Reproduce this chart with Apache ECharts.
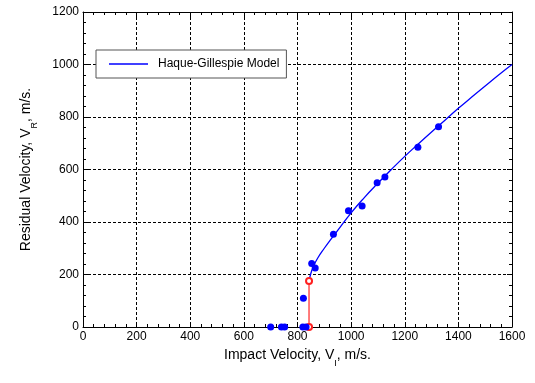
<!DOCTYPE html>
<html>
<head>
<meta charset="utf-8">
<script src="https://cdn.jsdelivr.net/npm/echarts@6/dist/echarts.min.js"></script>
<style>html,body{margin:0;padding:0;background:#fff}#c{width:535px;height:383px}</style>
</head>
<body>
<div id="c"></div>
<script>
// Measured data points (impact velocity, residual velocity)
const measuredVI = [700, 740, 752, 820, 832, 822, 853, 866, 934, 990, 1041, 1097, 1126, 1249, 1326];
const measuredVR = [0, 0, 0, 0, 0, 110, 242, 225, 353, 443, 461, 550, 571, 685, 763];
// Haque-Gillespie model curve
const modelVI = [843, 850, 860, 875, 900, 925, 950, 1000, 1050, 1100, 1150, 1200, 1250, 1300, 1350, 1400, 1450, 1500, 1550, 1600];
const modelVR = [175, 205, 232, 262, 300, 335, 368, 435, 494, 548, 600, 650, 697, 743, 788, 833, 876, 918, 960, 1000];
// Ballistic limit jump (red)
const limitVI = [843, 843];
const limitVR = [0, 175];
const xTicks = [0, 200, 400, 600, 800, 1000, 1200, 1400, 1600];
const yTicks = [0, 200, 400, 600, 800, 1000, 1200];

const zip = (a, b) => a.map((v, i) => [v, b[i]]);
const font = 'Liberation Sans, Arial, sans-serif';

const axisCommon = {
  type: 'value',
  axisLine: { show: true, onZero: false, lineStyle: { color: '#000', width: 1 } },
  axisTick: { show: true, inside: true, length: 5, lineStyle: { color: '#000' } },
  minorTick: { show: true, splitNumber: 5, length: 3, lineStyle: { color: '#000' } },
  splitLine: { show: false },
  minorSplitLine: { show: false }
};

const chart = echarts.init(document.getElementById('c'), null, { renderer: 'canvas' });
chart.setOption({
  animation: false,
  backgroundColor: '#fff',
  grid: { left: 83, right: 23, top: 12, bottom: 56 },
  legend: {
    left: 96, top: 50,
    orient: 'horizontal',
    data: [{ name: 'Haque-Gillespie Model', icon: 'rect' }],
    itemWidth: 39, itemHeight: 1.5,
    padding: [7, 7, 7, 13],
    borderColor: '#555', borderWidth: 1,
    backgroundColor: '#fff',
    textStyle: { fontFamily: font, fontSize: 12, color: '#000', padding: [0, 0, 0, 5], lineHeight: 14 }
  },
  xAxis: [
    Object.assign({}, axisCommon, {
      min: 0, max: 1600, interval: 200, position: 'bottom',
      splitLine: { show: true, lineStyle: { color: '#000', type: [3, 2], width: 1 } },
      axisLabel: { fontFamily: font, fontSize: 12, color: '#000', margin: 4,
        formatter: v => xTicks.includes(v) ? String(v) : '' },
      name: '{n|Impact Velocity, V}{s|I}{n|, m/s.}',
      nameLocation: 'middle', nameGap: 21,
      nameTextStyle: { rich: {
        n: { fontFamily: font, fontSize: 14, color: '#000' },
        s: { fontFamily: font, fontSize: 9, color: '#000', verticalAlign: 'bottom', padding: [0, 0, -6, 0] }
      } }
    }),
    Object.assign({}, axisCommon, {
      min: 0, max: 1600, interval: 200, position: 'top',
      axisLabel: { show: false }
    })
  ],
  yAxis: [
    Object.assign({}, axisCommon, {
      min: 0, max: 1200, interval: 200, position: 'left',
      splitLine: { show: true, lineStyle: { color: '#000', type: [3, 2], width: 1 } },
      axisLabel: { fontFamily: font, fontSize: 12, color: '#000', margin: 4,
        formatter: v => yTicks.includes(v) ? String(v) : '' },
      name: '{n|Residual Velocity, V}{s|R}{n|, m/s.}',
      nameLocation: 'middle', nameGap: 50, nameRotate: 90,
      nameTextStyle: { rich: {
        n: { fontFamily: font, fontSize: 14, color: '#000' },
        s: { fontFamily: font, fontSize: 9, color: '#000', verticalAlign: 'bottom', padding: [0, 0, -6, 0] }
      } }
    }),
    Object.assign({}, axisCommon, {
      min: 0, max: 1200, interval: 200, position: 'right',
      axisLabel: { show: false }
    })
  ],
  series: [
    {
      name: 'Haque-Gillespie Model',
      type: 'line',
      data: zip(modelVI, modelVR),
      symbol: 'none',
      smooth: true,
      lineStyle: { color: '#0000ff', width: 1.3 },
      itemStyle: { color: '#0000ff' },
      z: 3
    },
    {
      name: 'Limit',
      type: 'line',
      data: zip(limitVI, limitVR),
      symbol: 'emptyCircle',
      symbolSize: 6,
      lineStyle: { color: '#ff5050', width: 1.5 },
      itemStyle: { color: '#ff2020', borderColor: '#ff2020', borderWidth: 1.2 },
      z: 4
    },
    {
      name: 'Measured',
      type: 'scatter',
      data: zip(measuredVI, measuredVR),
      symbol: 'circle',
      symbolSize: 7,
      itemStyle: { color: '#0000ff', opacity: 1 },
      z: 5
    }
  ]
});
</script>
</body>
</html>
